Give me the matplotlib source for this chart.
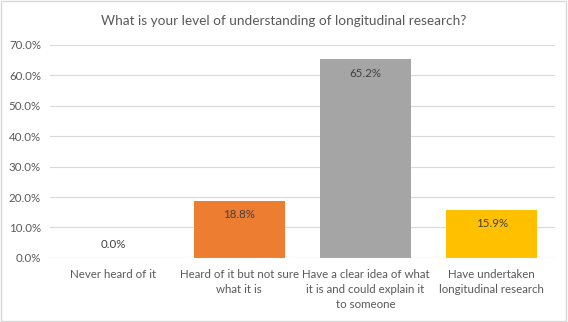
import matplotlib.pyplot as plt
from matplotlib.patches import Rectangle

categories = ["Never heard of it",
              "Heard of it but not sure\nwhat it is",
              "Have a clear idea of what\nit is and could explain it\nto someone",
              "Have undertaken\nlongitudinal research"]
values = [0.0, 0.188, 0.652, 0.159]
colors = ["#4472C4", "#ED7D31", "#A5A5A5", "#FFC000"]
yticks = [0.0, 0.1, 0.2, 0.3, 0.4, 0.5, 0.6, 0.7]

plt.rcParams['font.family'] = ['Lato', 'DejaVu Sans']

fig = plt.figure(figsize=(5.68, 3.22), dpi=100)
fig.patches.append(Rectangle((0.002, 0.003), 0.995, 0.994, transform=fig.transFigure,
                             fill=False, edgecolor="#D9D9D9", linewidth=1.0))
ax = fig.add_axes([0.088, 0.199, 0.889, 0.662])

x = range(len(categories))
ax.bar(x, values, width=0.72, color=colors, zorder=3)
ax.set_xlim(-0.5, 3.5)
ax.set_ylim(0, 0.7)
ax.set_yticks(yticks)
ax.set_yticklabels(["%.1f%%" % (t * 100) for t in yticks])
ax.set_xticks(list(x))
ax.set_xticklabels(categories, linespacing=1.45)
ax.tick_params(length=0, labelsize=8.3, colors="#595959")
ax.tick_params(axis='y', pad=6.5)
ax.tick_params(axis='x', pad=8)
ax.grid(axis='y', color="#D9D9D9", linewidth=0.8, zorder=0)
for s in ax.spines.values():
    s.set_visible(False)
ax.axhline(0, color="#D9D9D9", linewidth=0.8, zorder=4)

for i, v in enumerate(values):
    off = -10 if v > 0 else 10
    ax.annotate("%.1f%%" % (v * 100), (i, v), xytext=(0, off), textcoords="offset points",
                ha="center", va="center", fontsize=8.3, color="#404040", zorder=5)

fig.text(0.5, 0.935, "What is your level of understanding of longitudinal research?",
         ha="center", va="center", fontsize=9.8, color="#595959")

fig.savefig("out.png", dpi=100)
